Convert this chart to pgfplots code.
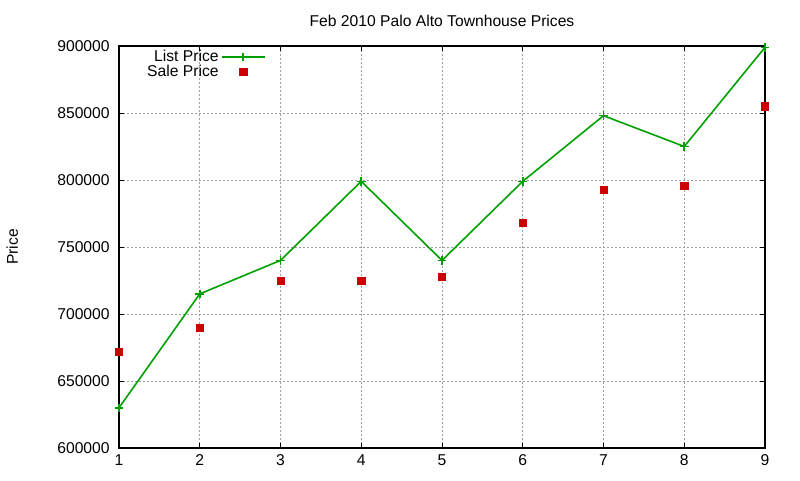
\documentclass[border=0pt]{standalone}
\usepackage{fontspec}
\setmainfont{Liberation Sans}
\usepackage{pgfplots}
\pgfplotsset{compat=1.18}
\definecolor{lgreen}{RGB}{0,160,0}
\definecolor{lred}{RGB}{204,0,0}
\pgfplotsset{
  listleg/.style={legend image code/.code={\draw[mark repeat=2,mark phase=2,##1] plot coordinates {(0cm,0cm)(0.56cm,0cm)(1.12cm,0cm)};}},
  saleleg/.style={legend image code/.code={\draw[##1] plot coordinates {(0.56cm,0cm)};}},
}
\begin{document}
\begin{tikzpicture}
\path[use as bounding box] (0,0) rectangle (600pt,360pt);
\begin{axis}[
  at={(89.25pt,24pt)}, anchor=south west,
  scale only axis, width=484.5pt, height=301.5pt,
  xmin=1, xmax=9, ymin=600000, ymax=900000,
  xtick={1,...,9},
  ytick={600000,650000,...,900000},
  scaled y ticks=false,
  /pgf/number format/fixed,
  /pgf/number format/1000 sep={},
  /pgf/number format/assume math mode=true,
  font=\fontsize{11.75pt}{14pt}\selectfont,
  yticklabel style={xshift=-3.5pt},
  xticklabel style={yshift=-1.5pt},
  tick style={black, line width=0.6pt},
  major tick length=4pt,
  tick align=inside,
  grid=major,
  major grid style={black!38, dash pattern=on 1.5pt off 1.5pt, line width=0.6pt},
  axis line style={black, line width=0.8pt},
  title={Feb 2010 Palo Alto Townhouse Prices},
  title style={at={(0.5,1)}, anchor=south, yshift=5pt, font=\fontsize{11.75pt}{13pt}\selectfont},
  ylabel={Price},
  every axis y label/.style={at={(-80pt,0.5)}, rotate=90, anchor=center, font=\fontsize{11.75pt}{13pt}\selectfont},
  legend style={draw=none, fill=none, at={(0.037,1.0)}, anchor=north west, legend plot pos=right, legend cell align=right, font=\fontsize{11.75pt}{11.75pt}\selectfont, row sep=-3pt, inner sep=1pt},
]
\addplot[lgreen, line width=1.2pt, mark=+, mark size=3.2pt, mark options={line width=1.2pt}, listleg]
  coordinates {(1,630000)(2,715000)(3,740000)(4,799000)(5,740000)(6,799000)(7,848000)(8,825000)(9,899000)};
\addlegendentry{List Price}
\addplot[lred, only marks, mark=square*, mark size=2.7pt, saleleg]
  coordinates {(1,672000)(2,690000)(3,725000)(4,725000)(5,728000)(6,768000)(7,792500)(8,795500)(9,855000)};
\addlegendentry{Sale Price}
\end{axis}
\end{tikzpicture}
\end{document}
